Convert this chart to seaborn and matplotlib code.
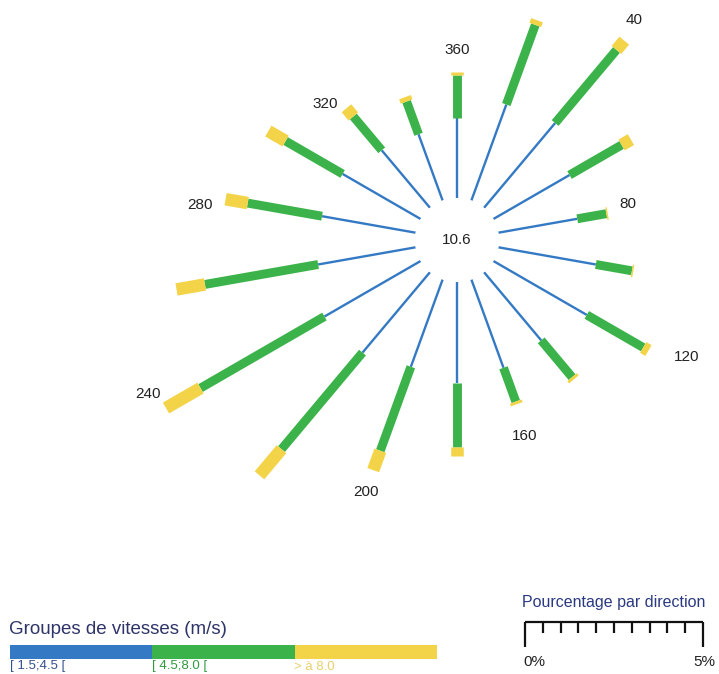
import numpy as np
import pandas as pd
import matplotlib
matplotlib.use("Agg")
import matplotlib.pyplot as plt
from matplotlib.patches import Rectangle
import seaborn as sns

# Wind directions (degrees, clockwise from north) and frequency (%) per speed class
directions = [20, 40, 60, 80, 100, 120, 140, 160, 180,
              200, 220, 240, 260, 280, 300, 320, 340, 360]
low = [2.87, 3.11, 2.47, 2.25, 2.78, 3.03, 2.50, 2.64, 2.84,
       2.61, 2.95, 3.12, 2.78, 2.67, 2.53, 2.11, 1.98, 2.25]
mid = [2.38, 2.68, 1.69, 0.83, 1.03, 1.83, 1.35, 1.01, 1.80,
       2.51, 3.54, 4.02, 3.23, 2.12, 1.85, 1.24, 0.98, 1.21]
high = [0.14, 0.34, 0.30, 0.04, 0.04, 0.17, 0.08, 0.08, 0.25,
        0.58, 0.96, 1.12, 0.81, 0.63, 0.56, 0.30, 0.13, 0.08]
calm = 10.6

class_names = ["[ 1.5;4.5 [", "[ 4.5;8.0 [", "> à 8.0"]
class_colors = ["#3479c4", "#3bb34a", "#f3d347"]
class_text_colors = ["#34508f", "#2f9a3e", "#e8cf6e"]
label_dirs = [40, 80, 120, 160, 200, 240, 280, 320, 360]
legend_title = "Groupes de vitesses (m/s)"
scale_title = "Pourcentage par direction"
scale_max = 5

# Pixel offsets of each direction label from the tip of its bar
label_offsets = {40: (10, 21), 80: (20, 9), 120: (38, -6), 160: (8, -32),
                 200: (-7, -22), 240: (-18, 14), 280: (-26, -6),
                 320: (-21, 4), 360: (0, 22)}

# ---------------------------------------------------------------- layout
W, H = 719, 674
PX_PER_PCT = 35.6          # pixels per percent on the rose and the ruler
hole = 42 / PX_PER_PCT     # calm circle radius, in percent units
rmax = 8.6
cx, cy = 457, H - 240

sns.set_theme(style="white")
plt.rcParams["font.family"] = ["Liberation Sans", "DejaVu Sans"]

fig = plt.figure(figsize=(W / 100, H / 100), dpi=100)
fig.patch.set_facecolor("white")

R = (rmax + hole) * PX_PER_PCT
ax = fig.add_axes([(cx - R) / W, (cy - R) / H, 2 * R / W, 2 * R / H],
                  projection="polar")
ax.set_theta_zero_location("N")
ax.set_theta_direction(-1)

# Long-form table: one radial segment per direction and speed class
rows = []
for d, a, b, c in zip(directions, low, mid, high):
    edges = np.cumsum([0, a, b, c])
    for k, name in enumerate(class_names):
        seg = f"{d}-{k}"
        rows.append(dict(theta=np.radians(d), r=edges[k], cls=name, seg=seg))
        rows.append(dict(theta=np.radians(d), r=edges[k + 1], cls=name, seg=seg))
df = pd.DataFrame(rows)

sns.lineplot(data=df, x="theta", y="r", units="seg", estimator=None, sort=False,
             hue="cls", hue_order=class_names, palette=class_colors,
             size="cls", size_order=class_names, sizes=[1.7, 6.4, 9.0],
             legend=False, ax=ax, solid_capstyle="butt")

ax.set_rorigin(-hole)
ax.set_ylim(0, rmax)
ax.axis("off")

# Direction labels beyond the end of each bar
totals = {d: a + b + c for d, a, b, c in zip(directions, low, mid, high)}
for d in label_dirs:
    ax.annotate(str(d), xy=(np.radians(d), totals[d]), xytext=label_offsets[d],
                textcoords="offset pixels", ha="center", va="center",
                fontsize=11, color="#222222", annotation_clip=False)

# Calm percentage in the centre
fig.text(cx / W, cy / H, f"{calm}", ha="center", va="center",
         fontsize=11, color="#222222")

# ---------------------------------------------------------------- legend
fig.text(9 / W, (H - 629) / H, legend_title, ha="left", va="center",
         fontsize=13.5, color="#2e3468")
leg = fig.add_axes([10 / W, (H - 659) / H, 427 / W, 14 / H])
leg.set_xlim(0, len(class_names))
leg.set_ylim(0, 1)
leg.axis("off")
for k, (name, col, tcol) in enumerate(zip(class_names, class_colors, class_text_colors)):
    leg.add_patch(Rectangle((k, 0), 1, 1, facecolor=col, edgecolor="none"))
    fig.text((10 + k * 142) / W, (H - 672.5) / H, name, ha="left", va="bottom",
             fontsize=9.5, color=tcol)

# ---------------------------------------------------------------- ruler
x0 = 525
rul = fig.add_axes([x0 / W, (H - 647) / H, scale_max * PX_PER_PCT / W, 25 / H])
rul.set_xlim(0, scale_max)
rul.set_ylim(-1, 0)
rul.axis("off")
ticks = np.arange(0, scale_max + 0.01, 0.5)
rul.plot([0, scale_max], [0, 0], color="#111111", lw=1.6, solid_capstyle="butt",
         clip_on=False)
for t in ticks:
    end = -1 if t in (0, scale_max) else -0.45
    rul.plot([t, t], [0, end], color="#111111", lw=1.6, solid_capstyle="butt",
             clip_on=False)
fig.text((x0 + scale_max * PX_PER_PCT / 2) / W, (H - 602) / H, scale_title,
         ha="center", va="center", fontsize=11.5, color="#2b3a80")
fig.text(523 / W, (H - 662) / H, "0%", ha="left", va="center",
         fontsize=11, color="#222222")
fig.text(715 / W, (H - 662) / H, f"{scale_max}%", ha="right", va="center",
         fontsize=11, color="#222222")

fig.savefig("out.png", dpi=100)
